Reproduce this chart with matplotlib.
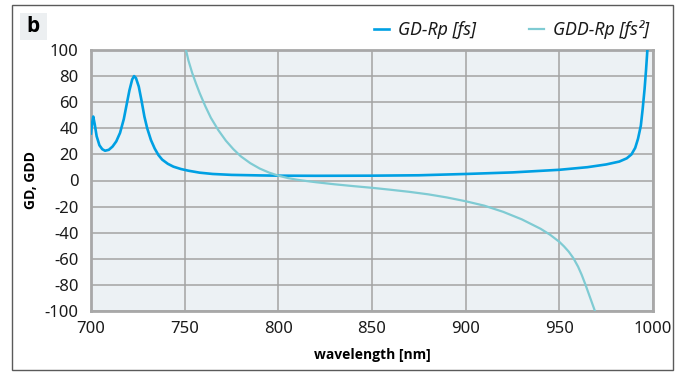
import matplotlib
matplotlib.use('Agg')
import matplotlib.pyplot as plt
from matplotlib.patches import Rectangle

# DATA ========================================================================

# GD-Rp [fs] (wavelength nm, value).
gd_wl = [700.0, 700.6, 701.2, 702.0, 703.0, 704.5, 706.0, 707.5, 709.5, 711.5,
         713.5, 715.5, 717.5, 719.0, 720.5, 722.0, 723.0, 724.0, 725.5, 727.0,
         728.5, 730.0, 732.0, 734.0, 736.0, 738.0, 741.0, 744.0, 748.0, 752.0,
         758.0, 765.0, 775.0, 790.0, 800.0, 820.0, 850.0, 875.0, 900.0, 925.0,
         950.0, 965.0, 975.0, 982.0, 986.0, 988.5, 990.5, 992.0, 993.5, 994.5,
         995.5, 996.3, 997.0]
gd_val = [36.0, 44.0, 49.0, 43.0, 34.0, 27.0, 24.0, 22.8, 23.5, 26.0,
          30.0, 36.5, 47.0, 58.0, 69.0, 77.5, 80.0, 78.5, 72.0, 61.0,
          49.0, 40.0, 31.0, 24.5, 19.5, 16.0, 12.8, 10.6, 8.8, 7.5,
          6.0, 5.0, 4.3, 3.9, 3.7, 3.6, 3.7, 4.0, 5.0, 6.2,
          8.2, 10.2, 12.3, 14.5, 17.0, 20.0, 25.0, 32.0, 42.0, 55.0,
          70.0, 85.0, 100.0]

# GDD-Rp [fs^2].
gdd_wl = [750.7, 752.0, 754.0, 756.0, 758.0, 761.0, 764.0, 768.0, 772.0, 776.0,
          780.0, 785.0, 790.0, 795.0, 800.0, 805.0, 810.0, 815.0, 820.0, 830.0,
          840.0, 850.0, 860.0, 870.0, 880.0, 890.0, 900.0, 910.0, 920.0, 930.0,
          940.0, 945.0, 950.0, 952.5, 955.0, 957.5, 960.0, 962.0, 964.0, 966.0,
          968.0, 969.0]
gdd_val = [100.0, 92.0, 82.5, 74.5, 67.0, 57.0, 48.0, 38.5, 30.5, 24.0,
           18.5, 13.3, 9.2, 6.1, 3.7, 1.9, 0.6, -0.4, -1.3, -2.9,
           -4.3, -5.6, -7.1, -8.7, -10.6, -13.0, -15.9, -19.3, -24.0, -29.8,
           -37.0, -41.5, -47.0, -50.5, -54.5, -59.5, -66.0, -72.5, -80.0, -88.0,
           -96.0, -100.0]

x_ticks = [700, 750, 800, 850, 900, 950, 1000]
y_ticks = [-100, -80, -60, -40, -20, 0, 20, 40, 60, 80, 100]

# STYLE =======================================================================

plt.rcParams['font.family'] = ['Noto Sans', 'DejaVu Sans']
plt.rcParams['axes.unicode_minus'] = False
BOLD_FONT = ['Open Sans', 'DejaVu Sans']

GD_COLOR = '#00a0e3'
GDD_COLOR = '#7fcbd3'
GRID_COLOR = '#a3a3a3'

W, H = 683, 372
fig = plt.figure(figsize=(W / 100, H / 100), dpi=100)
ax = fig.add_axes([91 / W, 1 - 311 / H, 562 / W, 261 / H])
ax.set_facecolor('#ecf1f4')

# PLOT ========================================================================

ax.plot(gd_wl, gd_val, color=GD_COLOR, lw=1.9, label='GD-Rp [fs]',
        zorder=3)
ax.plot(gdd_wl, gdd_val, color=GDD_COLOR, lw=1.6, label='GDD-Rp [fs²]',
        zorder=3)

ax.set_xlim(700, 1000)
ax.set_ylim(-100, 100)
ax.set_xticks(x_ticks)
ax.set_yticks(y_ticks)
ax.grid(True, color=GRID_COLOR, lw=1.1, zorder=1)
ax.set_axisbelow(True)
ax.tick_params(length=0, labelsize=12, colors='#1a1a1a')
ax.tick_params(axis='x', pad=7)
ax.tick_params(axis='y', pad=9)
for s in ax.spines.values():
    s.set_color('#a8a8a8')
    s.set_linewidth(2)

ax.set_xlabel('wavelength [nm]', fontsize=10, fontweight='bold',
              family=BOLD_FONT, labelpad=8)
ax.set_ylabel('GD, GDD', fontsize=10, fontweight='bold',
              family=BOLD_FONT, labelpad=5)

leg = ax.legend(loc='center right', bbox_to_anchor=(649 / W, 1 - 30 / H),
                bbox_transform=fig.transFigure, ncol=2, frameon=False,
                borderpad=0, borderaxespad=0, handlelength=0.85,
                handletextpad=0.5, columnspacing=3.0,
                prop={'size': 12.8, 'style': 'italic'})
for t in leg.get_texts():
    t.set_color('#1a1a1a')

# FRAME AND PANEL LETTER ======================================================

fig.add_artist(Rectangle((12 / W, 1 - 370 / H), 661 / W, 365 / H,
                         transform=fig.transFigure, fill=False,
                         ec='#5a5a5a', lw=1))
fig.add_artist(Rectangle((20 / W, 1 - 40 / H), 27 / W, 27 / H,
                         transform=fig.transFigure, fc='#eceff1', ec='none'))
fig.text(33.5 / W, 1 - 27 / H, 'b', fontsize=15, fontweight='bold',
         family=BOLD_FONT, ha='center', va='center')

fig.savefig('out.png', dpi=100)
